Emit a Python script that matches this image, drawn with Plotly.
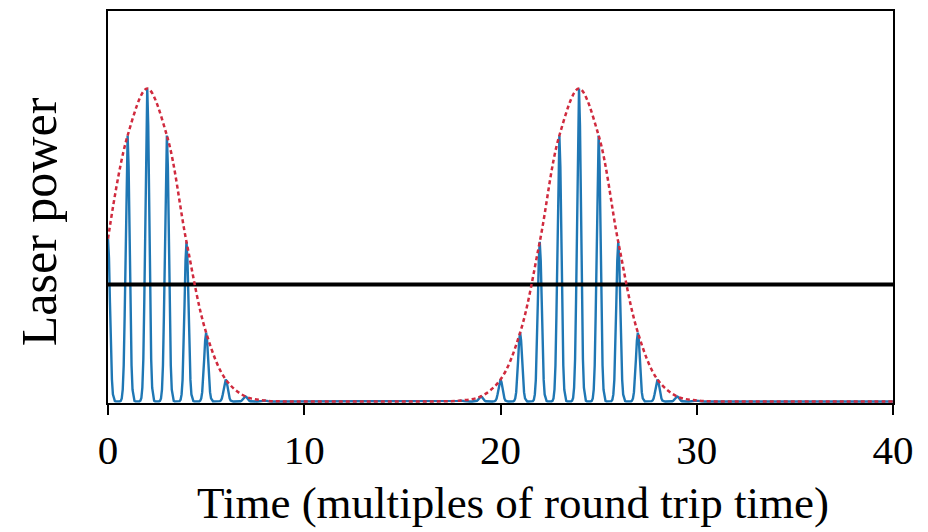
import numpy as np
import plotly.graph_objects as go

# ---- data ----
pulse_times = list(range(0, 41))
# peak laser power at each round trip (normalised)
peak_power = [0.52, 0.85, 1.00, 0.85, 0.51, 0.22, 0.07, 0.016, 0.003, 0.0,
              0.0, 0.0, 0.0, 0.0, 0.0, 0.0, 0.0, 0.0003, 0.003, 0.016,
              0.07, 0.22, 0.51, 0.85, 1.00, 0.85, 0.51, 0.22, 0.07, 0.016,
              0.003, 0.0, 0.0, 0.0, 0.0, 0.0, 0.0, 0.0, 0.0, 0.0, 0.0]
# shape of a single pulse (relative power vs. offset in round trips)
pulse_offsets = [-0.45, -0.40, -0.35, -0.30, -0.25, -0.20, -0.15, -0.10, -0.05, 0.0,
                 0.05, 0.10, 0.15, 0.20, 0.25, 0.30, 0.35, 0.40, 0.45]
pulse_shape = [0.0, 0.0003, 0.0022, 0.011, 0.044, 0.135, 0.325, 0.607, 0.883, 1.0,
               0.883, 0.607, 0.325, 0.135, 0.044, 0.011, 0.0022, 0.0003, 0.0]
average_power = 0.374
x_ticks = [0, 10, 20, 30, 40]

# build pulse train from the individual pulses
t_all, p_all = [], []
for k, h in zip(pulse_times, peak_power):
    for o, s in zip(pulse_offsets, pulse_shape):
        t = k + o
        if 0 <= t <= 40:
            t_all.append(t)
            p_all.append(h * s)

FONT = "Liberation Serif"
fig = go.Figure()
fig.add_trace(go.Scatter(x=t_all, y=p_all, mode="lines",
                         line=dict(color="#1f77b4", width=2.4), hoverinfo="skip"))
fig.add_trace(go.Scatter(x=[0, 40], y=[average_power, average_power], mode="lines",
                         line=dict(color="black", width=4), hoverinfo="skip"))
fig.add_trace(go.Scatter(x=pulse_times, y=peak_power, mode="lines",
                         line=dict(color="#d02a3e", width=2.5, dash="4px,3px", shape="spline"),
                         hoverinfo="skip"))

fig.update_layout(
    width=928, height=532,
    margin=dict(l=108, r=35, t=9, b=129),
    paper_bgcolor="white", plot_bgcolor="white",
    showlegend=False,
    font=dict(family=FONT, color="black"),
    xaxis=dict(range=[0, 40], tickvals=x_ticks, ticks="outside", ticklen=10, tickwidth=1.5,
               tickcolor="black", showline=True, linecolor="black", linewidth=2, mirror=True,
               showgrid=False, zeroline=False, tickfont=dict(family=FONT, size=41)),
    yaxis=dict(range=[-0.005, 1.248], showticklabels=False, ticks="", showline=True,
               linecolor="black", linewidth=2, mirror=True, showgrid=False, zeroline=False),
    annotations=[
        dict(text="Time (multiples of round trip time)", xref="paper", yref="paper",
             x=0.516, y=-0.254, xanchor="center", yanchor="middle", showarrow=False,
             font=dict(family=FONT, size=45)),
        dict(text="Laser power", xref="paper", yref="paper", textangle=-90,
             x=-0.0875, y=0.462, xanchor="center", yanchor="middle", showarrow=False,
             font=dict(family=FONT, size=50)),
    ],
)
fig.write_html("out.html")
